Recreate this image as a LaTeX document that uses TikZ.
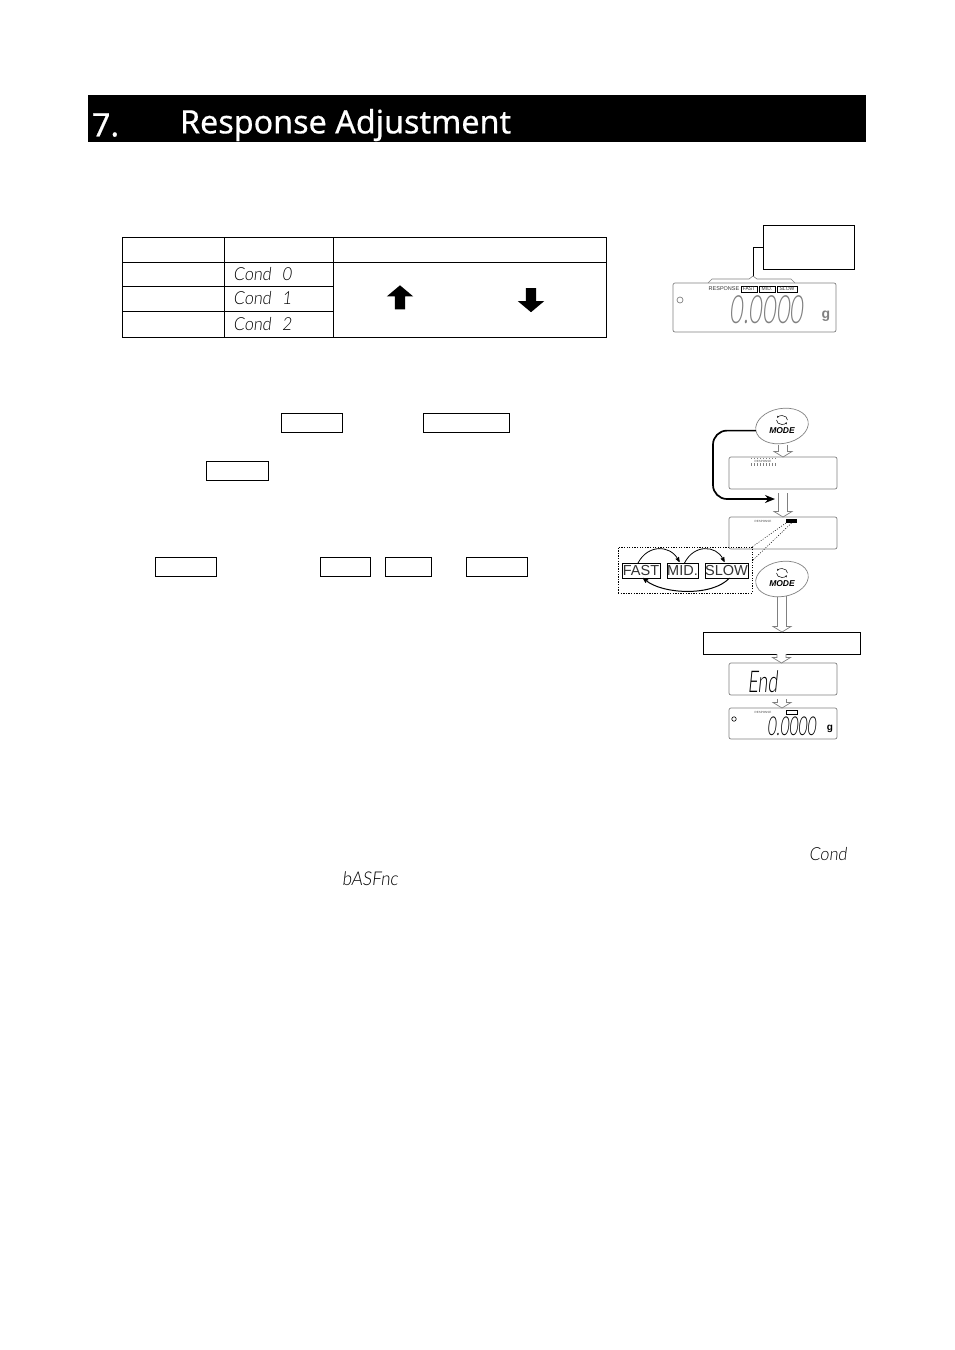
\documentclass[tikz,border=0pt]{standalone}
\usepackage{fontspec}
\setmainfont{Liberation Sans}
\newfontfamily\titlefont[FakeBold=0.5]{Noto Sans}
\newfontfamily\lcdfont[UprightFont=* Light,FakeSlant=0.12,FakeStretch=0.9]{Lato}
\newfontfamily\lcdnarrow[UprightFont=* Light,FakeSlant=0.1,FakeStretch=0.6]{Lato}
\usetikzlibrary{positioning,calc,arrows.meta,shapes.geometric,shapes.arrows}
\tikzset{
x=1pt,
y=-1pt,
>={Stealth[round]},
every node/.style={inner sep=0pt, outer sep=0pt},
cell/.style={draw, line width=1pt, anchor=north west},
keybox/.style={draw, line width=1pt, anchor=north west, minimum height=19pt},
lcd/.style={font=\lcdfont\fontsize{18}{18}\selectfont},
display/.style={draw=gray, rounded corners=2pt, line width=.7pt, anchor=north west, minimum width=108pt, minimum height=32pt},
hollow/.style={draw=gray, fill=white, line width=.7pt},
tinytext/.style={font=\fontsize{3}{3}\selectfont, text=black!70},
blockarrow/.style={single arrow, fill=black, inner ysep=5pt, minimum height=24pt, single arrow head extend=8pt, single arrow tip angle=100},
modetag/.style={font=\bfseries\itshape\fontsize{8.5}{8.5}\selectfont},
modekey/.style={ellipse, draw=gray, line width=.7pt, fill=white, minimum width=53pt, minimum height=35pt, rotate=10},
selbox/.style={draw, line width=.8pt, anchor=north west, minimum height=15pt, font=\fontsize{14.5}{14.5}\selectfont, text=black!80},
cycle/.style={->, line width=.8pt},
}
\newcommand{\hollowarrow}[3]{
        \draw[hollow] ($(#1)+(-4.5,#3)$) -- ($(#1 |- #2)+(-4.5,-5.5)$) -- ($(#1 |- #2)+(-9,-5.5)$) -- (#1 |- #2)
                -- ($(#1 |- #2)+(9,-5.5)$) -- ($(#1 |- #2)+(4.5,-5.5)$) -- ($(#1)+(4.5,#3)$);
}
\newcommand{\modebutton}[3]{
        \node[modekey] (#1) at (#2,#3) {};
        \node[modetag] (#1tag) at (#2,#3+5) {MODE};
        \draw[->, >={Stealth[length=2pt,width=2pt]}, line width=.5pt] (#2-5.5,#3-6) arc (180:30:5.5 and 4.5);
        \draw[->, >={Stealth[length=2pt,width=2pt]}, line width=.5pt] (#2+5.5,#3-6) arc (0:-150:5.5 and 4.5);
}
\begin{document}
\begin{tikzpicture}
        \useasboundingbox (0,0) rectangle (954,1350);

        \node[fill=black, anchor=north west, minimum width=778pt, minimum height=47pt] (titlebar) at (88,95) {};
        \node[anchor=west, text=white, font=\titlefont\fontsize{32.3}{32.3}\selectfont] (titlenum) at (92,125) {7.};
        \node[anchor=west, text=white, font=\titlefont\fontsize{32.3}{32.3}\selectfont] (titletext) at (180,125) {Response Adjustment};

        \node[cell, minimum width=102pt, minimum height=25pt] (headA) at (122,237) {};
        \node[cell, minimum width=109pt, minimum height=25pt] (headB) at (224,237) {};
        \node[cell, minimum width=273.5pt, minimum height=25pt] (headC) at (333,237) {};
        \node[cell, minimum width=102pt, minimum height=24pt] (rowA) at (122,262) {};
        \node[cell, minimum width=102pt, minimum height=25pt] (rowB) at (122,286) {};
        \node[cell, minimum width=102pt, minimum height=26pt] (rowC) at (122,311) {};
        \node[cell, minimum width=109pt, minimum height=24pt, lcd] (condA) at (224,262) {\hspace*{-32pt}Cond\hspace{11pt}0};
        \node[cell, minimum width=109pt, minimum height=25pt, lcd] (condB) at (224,286) {\hspace*{-32pt}Cond\hspace{11pt}1};
        \node[cell, minimum width=109pt, minimum height=26pt, lcd] (condC) at (224,311) {\hspace*{-32pt}Cond\hspace{11pt}2};
        \node[cell, minimum width=273.5pt, minimum height=75pt] (merged) at (333,262) {};
        \node[blockarrow, rotate=90] (arrowUp) at (400,299.5) {};
        \node[blockarrow, rotate=-90] (arrowDown) at (531,298) {};

        \node[cell, minimum width=91pt, minimum height=44pt] (callout) at (763,225) {};
        \coordinate (peak) at (753,276);
        \draw[line width=.8pt] (callout.west) -| (peak);
        \draw[draw=gray, line width=.6pt] (708,283) -- (712,279) -- (749,279) -- (peak) -- (757,279) -- (791,279) -- (795,283);
        \node[display, minimum width=163pt, minimum height=49pt] (dispTop) at (673,283) {};
        \node[circle, draw=gray, line width=.7pt, minimum size=6pt] (dotTop) at (680,300) {};
        \node[font=\fontsize{5.5}{5.5}\selectfont, text=black!80] (respTop) at (724,289) {RESPONSE};
        \node[selbox, minimum width=16pt, minimum height=6pt, line width=.6pt, font=\fontsize{5}{5}\selectfont] (fastTop) at (741,286) {FAST};
        \node[selbox, minimum width=16pt, minimum height=6pt, line width=.6pt, font=\fontsize{5}{5}\selectfont] (midTop) at (759,286) {MID.};
        \node[selbox, minimum width=20pt, minimum height=6pt, line width=.6pt, font=\fontsize{5}{5}\selectfont] (slowTop) at (777,286) {SLOW};
        \node[font=\lcdnarrow\fontsize{39}{39}\selectfont, text=gray] (zeroTop) at (766.5,310) {0.0000};
        \node[font=\bfseries\fontsize{14}{14}\selectfont, text=gray] (gramTop) at (826,316) {g};

        \node[keybox, minimum width=61pt] (keyA) at (281,413) {};
        \node[keybox, minimum width=86pt] (keyB) at (423,413) {};
        \node[keybox, minimum width=62pt] (keyC) at (206,461) {};
        \node[keybox, minimum width=61pt] (keyD) at (155,557) {};
        \node[keybox, minimum width=50pt] (keyE) at (320,557) {};
        \node[keybox, minimum width=46pt] (keyF) at (385,557) {};
        \node[keybox, minimum width=61pt] (keyG) at (466,557) {};

        \coordinate (stepTop) at (783,445);
        \coordinate (stepMid) at (783,493);
        \node[display] (dispBlink) at (729,457) {};
        \node[display] (dispResp) at (729,517) {};
        \hollowarrow{stepTop}{dispBlink.north}{0}
        \hollowarrow{stepMid}{dispResp.north}{0}
        \modebutton{modeA}{782}{426}
        \node[tinytext] (respBlink) at (763,461) {RESPONSE};
        \foreach \i in {0,...,8} {
                \draw[gray, line width=.3pt] (751+3*\i,457.5) -- (751+3*\i,459);
                \draw[gray, line width=.3pt] (751+3*\i,463) -- (751+3*\i,466);
        }
        \coordinate (loopend) at (775,499);
        \draw[->, >={Stealth[length=10pt,width=8pt]}, line width=1.7pt, rounded corners=14pt] (modeA.west) -| ($(loopend)+(-62,0)$) -- (loopend);

        \node[tinytext] (respB) at (763,521) {RESPONSE};
        \node[fill=black, anchor=north west, minimum width=11pt, minimum height=4pt] (markB) at (786,519) {};
        \node[draw, dash pattern=on 1.3pt off 1.3pt, line width=.8pt, anchor=north west, minimum width=134pt, minimum height=46pt] (zoomBox) at (618,547) {};
        \draw[dash pattern=on 1pt off 1.5pt, line width=.5pt] (markB.south west) -- (zoomBox.north east);
        \draw[dash pattern=on 1pt off 1.5pt, line width=.5pt] (markB.south) -- ($(zoomBox.north east)+(0,14)$);
        \node[selbox, minimum width=38pt] (fast) at (622,563) {FAST};
        \node[selbox, minimum width=31pt] (mid) at (667,563) {MID.};
        \node[selbox, minimum width=43pt] (slow) at (705,563) {SLOW};
        \draw[cycle] ($(fast.north)+(-3,0)$) .. controls (648,544) and (670,545) .. ($(mid.north)+(-3,-1)$);
        \draw[cycle] ($(mid.north)+(2,0)$) .. controls (694,544) and (716,545) .. ($(slow.north)+(-2,-1)$);
        \draw[cycle, line width=1pt] ($(slow.south)+(3,0)$) .. controls (712,597) and (662,594) .. ($(fast.south)+(2,0)$);

        \node[cell, minimum width=157pt, minimum height=22pt] (endBar) at (703,632) {};
        \node[display] (dispEnd) at (729,663) {};
        \node[display, minimum height=31pt] (dispZero) at (729,708) {};
        \coordinate (stepBtn) at (782,596);
        \hollowarrow{stepBtn}{endBar.north}{0}
        \modebutton{modeB}{782}{579}
        \hollowarrow{endBar.south}{dispEnd.north}{0}
        \coordinate (stepEnd) at (782,699);
        \hollowarrow{stepEnd}{dispZero.north}{0}
        \node[font=\lcdnarrow\fontsize{30}{30}\selectfont] (endText) at (762.5,682) {End};
        \node[circle, draw, line width=.6pt, minimum size=4.5pt] (dotZero) at (734,719) {};
        \node[tinytext] (respZero) at (763,712) {RESPONSE};
        \node[draw, line width=.8pt, anchor=north west, minimum width=11pt, minimum height=4pt] (markZero) at (786,710) {};
        \node[font=\lcdnarrow\fontsize{26}{26}\selectfont] (zeroText) at (791.5,726) {0.0000};
        \node[font=\bfseries\fontsize{10}{10}\selectfont] (gramZero) at (830,729) {g};

        \node[lcd] (condWord) at (828,854) {Cond};
        \node[lcd, font=\lcdfont\fontsize{19}{19}\selectfont] (basWord) at (370,879) {bASFnc};
\end{tikzpicture}
\end{document}
